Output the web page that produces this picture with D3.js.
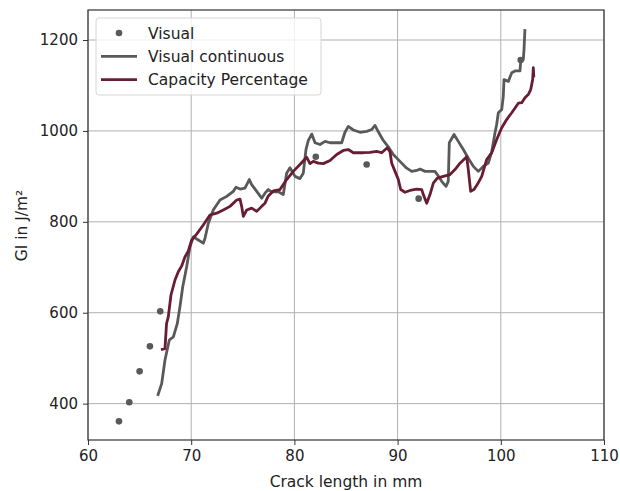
<!DOCTYPE html>
<html>
<head>
<meta charset="utf-8">
<script src="https://cdn.jsdelivr.net/npm/d3@7"></script>
<style>
  body { margin: 0; background: #fff; }
  text { font-family: "DejaVu Sans", sans-serif; }
</style>
</head>
<body>
<div id="chart"></div>
<script>
// "Visual" measurements (scatter)
const visualX = [63.0, 64.0, 65.0, 66.0, 67.0, 82.07, 87.0, 92.04, 101.93];
const visualY = [361, 403, 471, 526, 603, 943, 926, 851, 1156];

// "Visual continuous" line
const contX = [66.75, 67.14, 67.46, 67.88, 68.27, 68.65, 68.91, 69.18, 69.56, 69.88, 70.20, 70.69, 71.17, 71.34, 71.66,
  72.14, 72.79, 73.44, 74.08, 74.34, 74.73, 75.21, 75.63, 75.86, 76.35, 76.83, 77.15, 77.47, 77.80, 78.44, 78.92,
  79.25, 79.57, 80.06, 80.54, 80.86, 81.12, 81.35, 81.68, 82.00, 82.48, 82.97, 83.45, 84.10, 84.58, 84.90, 85.22,
  85.71, 86.36, 87.01, 87.49, 87.81, 88.13, 88.61, 89.10, 89.58, 90.23, 90.88, 91.37, 91.85, 92.17, 92.66, 93.14,
  93.62, 93.94, 94.27, 94.69, 94.91, 95.01, 95.47, 95.88, 96.37, 96.85, 97.34, 97.82, 98.30, 98.79, 99.12, 99.44,
  99.60, 99.76, 100.09, 100.24, 100.31, 100.73, 101.06, 101.38, 101.86, 101.93, 102.18, 102.25, 102.34];
const contY = [417, 444, 496, 540, 547, 576, 613, 657, 701, 745, 767, 760, 753, 764, 797,
  826, 848, 856, 867, 876, 872, 874, 893, 882, 867, 852, 863, 871, 866, 866, 860,
  907, 919, 900, 895, 907, 959, 979, 993, 974, 970, 977, 974, 974, 974, 997, 1010,
  1002, 997, 999, 1003, 1012, 998, 979, 965, 948, 933, 918, 911, 913, 916, 911, 911,
  911, 901, 889, 878, 889, 974, 992, 977, 959, 940, 922, 911, 922, 929, 954, 996,
  1014, 1040, 1047, 1076, 1113, 1109, 1128, 1132, 1132, 1154, 1157, 1179, 1224];

// "Capacity Percentage" line
const capX = [67.07, 67.46, 67.61, 67.78, 68.04, 68.43, 68.75, 69.08, 69.40, 69.69, 70.05, 70.53, 71.17, 71.82,
  72.47, 73.11, 73.76, 74.41, 74.73, 74.89, 75.05, 75.38, 75.86, 76.35, 76.83, 77.15, 77.47, 77.96, 78.60, 79.25,
  79.89, 80.54, 81.19, 81.51, 81.83, 82.32, 82.80, 83.45, 84.10, 84.74, 85.22, 85.71, 86.68, 87.33, 87.97, 88.46,
  89.00, 89.26, 89.43, 89.75, 90.07, 90.30, 90.72, 91.20, 91.85, 92.34, 92.49, 92.82, 93.14, 93.46, 93.85, 94.43,
  95.08, 95.56, 96.05, 96.70, 96.85, 97.08, 97.40, 97.72, 98.15, 98.63, 99.12, 99.60, 100.09, 100.57, 101.06,
  101.70, 102.03, 102.34, 102.66, 102.90, 103.09, 103.15, 103.20];
const capY = [519, 521, 576, 591, 639, 672, 690, 703, 723, 734, 760, 773, 793, 815,
  819, 826, 834, 848, 850, 834, 812, 826, 830, 823, 834, 841, 857, 868, 871, 893,
  911, 926, 942, 928, 933, 929, 928, 935, 948, 957, 959, 952, 952, 953, 955, 952,
  963, 954, 929, 911, 893, 871, 865, 869, 872, 871, 860, 841, 860, 885, 896, 900,
  904, 915, 929, 943, 915, 867, 871, 882, 900, 937, 952, 981, 1007, 1025, 1040,
  1061, 1062, 1073, 1080, 1091, 1113, 1139, 1118];

const xTicks = [60, 70, 80, 90, 100, 110];
const yTicks = [400, 600, 800, 1000, 1200];

const width = 620, height = 491;
const margin = { top: 10, right: 16, bottom: 50, left: 88 };

const svg = d3.select("#chart").append("svg")
  .attr("width", width)
  .attr("height", height);

const x = d3.scaleLinear()
  .domain([60, 110])
  .range([margin.left, width - margin.right]);

const y = d3.scaleLinear()
  .domain([320, 1266])
  .range([height - margin.bottom - 1, margin.top]);

// grid
svg.append("g")
  .selectAll("line")
  .data(xTicks)
  .join("line")
  .attr("x1", d => x(d)).attr("x2", d => x(d))
  .attr("y1", margin.top).attr("y2", height - margin.bottom - 1)
  .attr("stroke", "#b0b0b0").attr("stroke-width", 1);

svg.append("g")
  .selectAll("line")
  .data(yTicks)
  .join("line")
  .attr("x1", margin.left).attr("x2", width - margin.right)
  .attr("y1", d => y(d)).attr("y2", d => y(d))
  .attr("stroke", "#b0b0b0").attr("stroke-width", 1);

// lines
const line = d3.line().x(d => x(d[0])).y(d => y(d[1]));

svg.append("path")
  .datum(contX.map((v, i) => [v, contY[i]]))
  .attr("d", line)
  .attr("fill", "none")
  .attr("stroke", "#595959")
  .attr("stroke-width", 2.8)
  .attr("stroke-linejoin", "round");

svg.append("path")
  .datum(capX.map((v, i) => [v, capY[i]]))
  .attr("d", line)
  .attr("fill", "none")
  .attr("stroke", "#681d32")
  .attr("stroke-width", 2.8)
  .attr("stroke-linejoin", "round");

svg.append("g")
  .selectAll("circle")
  .data(visualX.map((v, i) => [v, visualY[i]]))
  .join("circle")
  .attr("cx", d => x(d[0]))
  .attr("cy", d => y(d[1]))
  .attr("r", 3.3)
  .attr("fill", "#595959");

// axes
const xAxis = svg.append("g")
  .attr("transform", `translate(0, ${height - margin.bottom - 1})`)
  .call(d3.axisBottom(x).tickValues(xTicks).tickSize(5).tickPadding(5));

const yAxis = svg.append("g")
  .attr("transform", `translate(${margin.left}, 0)`)
  .call(d3.axisLeft(y).tickValues(yTicks).tickFormat(d3.format("d")).tickSize(5).tickPadding(5));

[xAxis, yAxis].forEach(g => {
  g.select(".domain").remove();
  g.selectAll(".tick line").attr("stroke", "#333");
  g.selectAll(".tick text")
    .attr("fill", "#222")
    .style("font-size", "15px")
    .style("font-family", "DejaVu Sans");
});

// frame
svg.append("rect")
  .attr("x", margin.left)
  .attr("y", margin.top)
  .attr("width", width - margin.left - margin.right)
  .attr("height", height - margin.top - margin.bottom - 1)
  .attr("fill", "none")
  .attr("stroke", "#333")
  .attr("stroke-width", 1.2);

// axis labels
svg.append("text")
  .attr("x", (margin.left + width - margin.right) / 2)
  .attr("y", 487)
  .attr("text-anchor", "middle")
  .attr("fill", "#222")
  .style("font-size", "15.5px")
  .text("Crack length in mm");

svg.append("text")
  .attr("transform", `translate(27, ${(margin.top + height - margin.bottom) / 2}) rotate(-90)`)
  .attr("text-anchor", "middle")
  .attr("fill", "#222")
  .style("font-size", "15.5px")
  .text("GI in J/m²");

// legend
const legend = svg.append("g").attr("transform", "translate(96, 18)");
legend.append("rect")
  .attr("width", 225).attr("height", 77).attr("rx", 3)
  .attr("fill", "rgba(255,255,255,0.8)")
  .attr("stroke", "#d6d6d6");

const legendItems = ["Visual", "Visual continuous", "Capacity Percentage"];
const legendColors = ["#595959", "#595959", "#681d32"];
legendItems.forEach((name, i) => {
  const cy = 15 + i * 23.3;
  if (i === 0) {
    legend.append("circle").attr("cx", 23).attr("cy", cy).attr("r", 3.3).attr("fill", legendColors[i]);
  } else {
    legend.append("line")
      .attr("x1", 5).attr("x2", 41).attr("y1", cy).attr("y2", cy)
      .attr("stroke", legendColors[i]).attr("stroke-width", 2.8);
  }
  legend.append("text")
    .attr("x", 52).attr("y", cy + 5.5)
    .attr("fill", "#222")
    .style("font-size", "15.5px")
    .text(name);
});
</script>
</body>
</html>
